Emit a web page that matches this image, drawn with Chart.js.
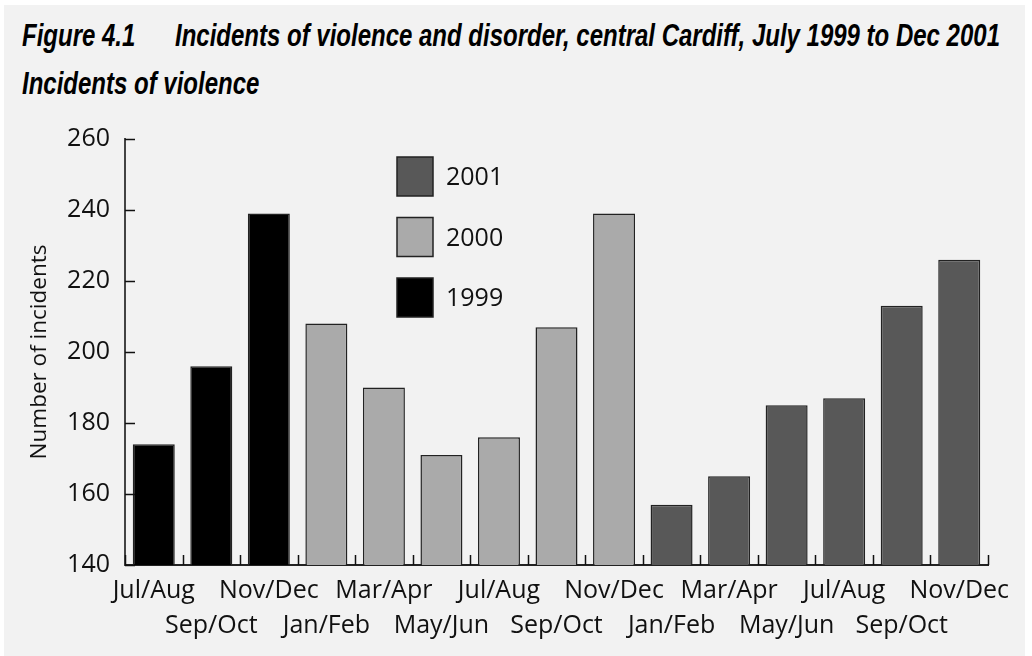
<!DOCTYPE html>
<html><head><meta charset="utf-8">
<script src="https://cdn.jsdelivr.net/npm/chart.js@4.4.1/dist/chart.umd.min.js"></script>
<style>
html,body{margin:0;padding:0;background:#fff;width:1032px;height:656px;overflow:hidden;}
#panel{position:absolute;left:4px;top:5px;width:1021px;height:651px;background:#f2f2f2;}
#wrap{position:absolute;left:0;top:0;width:1032px;height:656px;}
.t{position:absolute;font-family:"Liberation Sans Narrow","Liberation Sans",sans-serif;font-weight:bold;font-style:italic;font-size:32px;color:#000;white-space:nowrap;transform-origin:0 0;line-height:1;}
</style></head><body>
<div id="panel"></div>
<div class="t" id="t1" style="left:22px;top:19px">Figure 4.1</div>
<div class="t" id="t2" style="left:175px;top:19px">Incidents of violence and disorder, central Cardiff, July 1999 to Dec 2001</div>
<div class="t" id="t3" style="left:22px;top:67px">Incidents of violence</div>
<div id="wrap"><canvas id="c" width="1032" height="656"></canvas></div>
<script>
const categories = ['Jul/Aug','Sep/Oct','Nov/Dec','Jan/Feb','Mar/Apr','May/Jun','Jul/Aug','Sep/Oct','Nov/Dec','Jan/Feb','Mar/Apr','May/Jun','Jul/Aug','Sep/Oct','Nov/Dec'];
const years = ['1999','2000','2001'];
const values1999 = [174,196,239];
const values2000 = [208,190,171,176,207,239];
const values2001 = [157,165,185,187,213,226];
const yTicks = [140,160,180,200,220,240,260];
const yTitle = 'Number of incidents';

// scale title text horizontally to condensed width
(function(){
  const t2 = document.getElementById('t2');
  const f = 825 / t2.getBoundingClientRect().width;
  ['t1','t2','t3'].forEach(id=>{document.getElementById(id).style.transform='scaleX('+f+')';});
})();

const nulls = n => Array(n).fill(null);
const series1999 = values1999.concat(nulls(categories.length - values1999.length));
const series2000 = nulls(values1999.length).concat(values2000, nulls(values2001.length));
const series2001 = nulls(values1999.length + values2000.length).concat(values2001);

const FONT = '"Open Sans"';

const insideLegend = {
  id:'insideLegend',
  afterDatasetsDraw(chart){
    const {ctx, chartArea:a} = chart;
    const ds = chart.data.datasets.slice().reverse();
    ctx.save();
    ds.forEach((d,k)=>{
      const x = a.left + 272, y = a.top + 18 + k*60.5;
      ctx.fillStyle = d.backgroundColor;
      ctx.fillRect(x,y,36,39);
      ctx.strokeStyle = '#222'; ctx.lineWidth = 1.5;
      ctx.strokeRect(x,y,36,39);
      ctx.fillStyle = '#111';
      ctx.font = '25px ' + FONT;
      ctx.textBaseline = 'middle';
      ctx.textAlign = 'left';
      ctx.fillText(d.label, x + 49, y + 21);
    });
    ctx.restore();
  }
};

const innerTicks = {
  id:'innerTicks',
  afterDraw(chart){
    const {ctx, chartArea:a, scales:{x, y}} = chart;
    ctx.save();
    ctx.strokeStyle = '#111'; ctx.lineWidth = 1.5;
    ctx.beginPath();
    y.ticks.forEach(t=>{
      const py = Math.round(y.getPixelForValue(t.value)) + 0.5;
      ctx.moveTo(a.left, py); ctx.lineTo(a.left + 10, py);
    });
    const half = (x.getPixelForValue(1) - x.getPixelForValue(0)) / 2;
    for (let i = 0; i <= categories.length; i++) {
      const px = Math.round(x.getPixelForValue(i) - half) + 0.5;
      ctx.moveTo(px, a.bottom); ctx.lineTo(px, a.bottom - 10);
    }
    ctx.stroke();
    ctx.restore();
  }
};

new Chart(document.getElementById('c'), {
  type:'bar',
  data:{
    labels: categories,
    datasets:[
      {label:years[0], data:series1999, backgroundColor:'#000000'},
      {label:years[1], data:series2000, backgroundColor:'#aaaaaa'},
      {label:years[2], data:series2001, backgroundColor:'#585858'}
    ]
  },
  options:{
    responsive:false,
    devicePixelRatio:1,
    animation:false,
    datasets:{bar:{borderColor:'#222', borderWidth:1.5, barPercentage:0.73, categoryPercentage:1}},
    layout:{padding:{top:139, right:44, left:0, bottom:0}},
    plugins:{legend:{display:false}, tooltip:{enabled:false}, title:{display:false}},
    scales:{
      x:{
        stacked:true,
        offset:true,
        grid:{display:false, drawTicks:false},
        border:{display:true, color:'#222', width:2},
        ticks:{autoSkip:false, maxRotation:0, minRotation:0, padding:8, color:'#111',
          font:{family:'Open Sans', size:25, lineHeight:1.4},
          callback:(v,i)=> i%2===0 ? [categories[i], ''] : ['', categories[i]]},
        afterFit:s=>{ s.height = 91; }
      },
      y:{
        stacked:true,
        min:140, max:260,
        grid:{display:false, drawTicks:false},
        border:{display:true, color:'#444', width:2},
        afterBuildTicks:s=>{ s.ticks = yTicks.map(v=>({value:v})); },
        ticks:{padding:15, color:'#111', font:{family:'Open Sans', size:25}},
        title:{display:true, text:yTitle, color:'#111', font:{family:'Open Sans', size:22.5}, padding:{top:26, bottom:0}},
        afterFit:s=>{ s.width = 125; }
      }
    }
  },
  plugins:[insideLegend, innerTicks]
});
</script>
</body></html>
